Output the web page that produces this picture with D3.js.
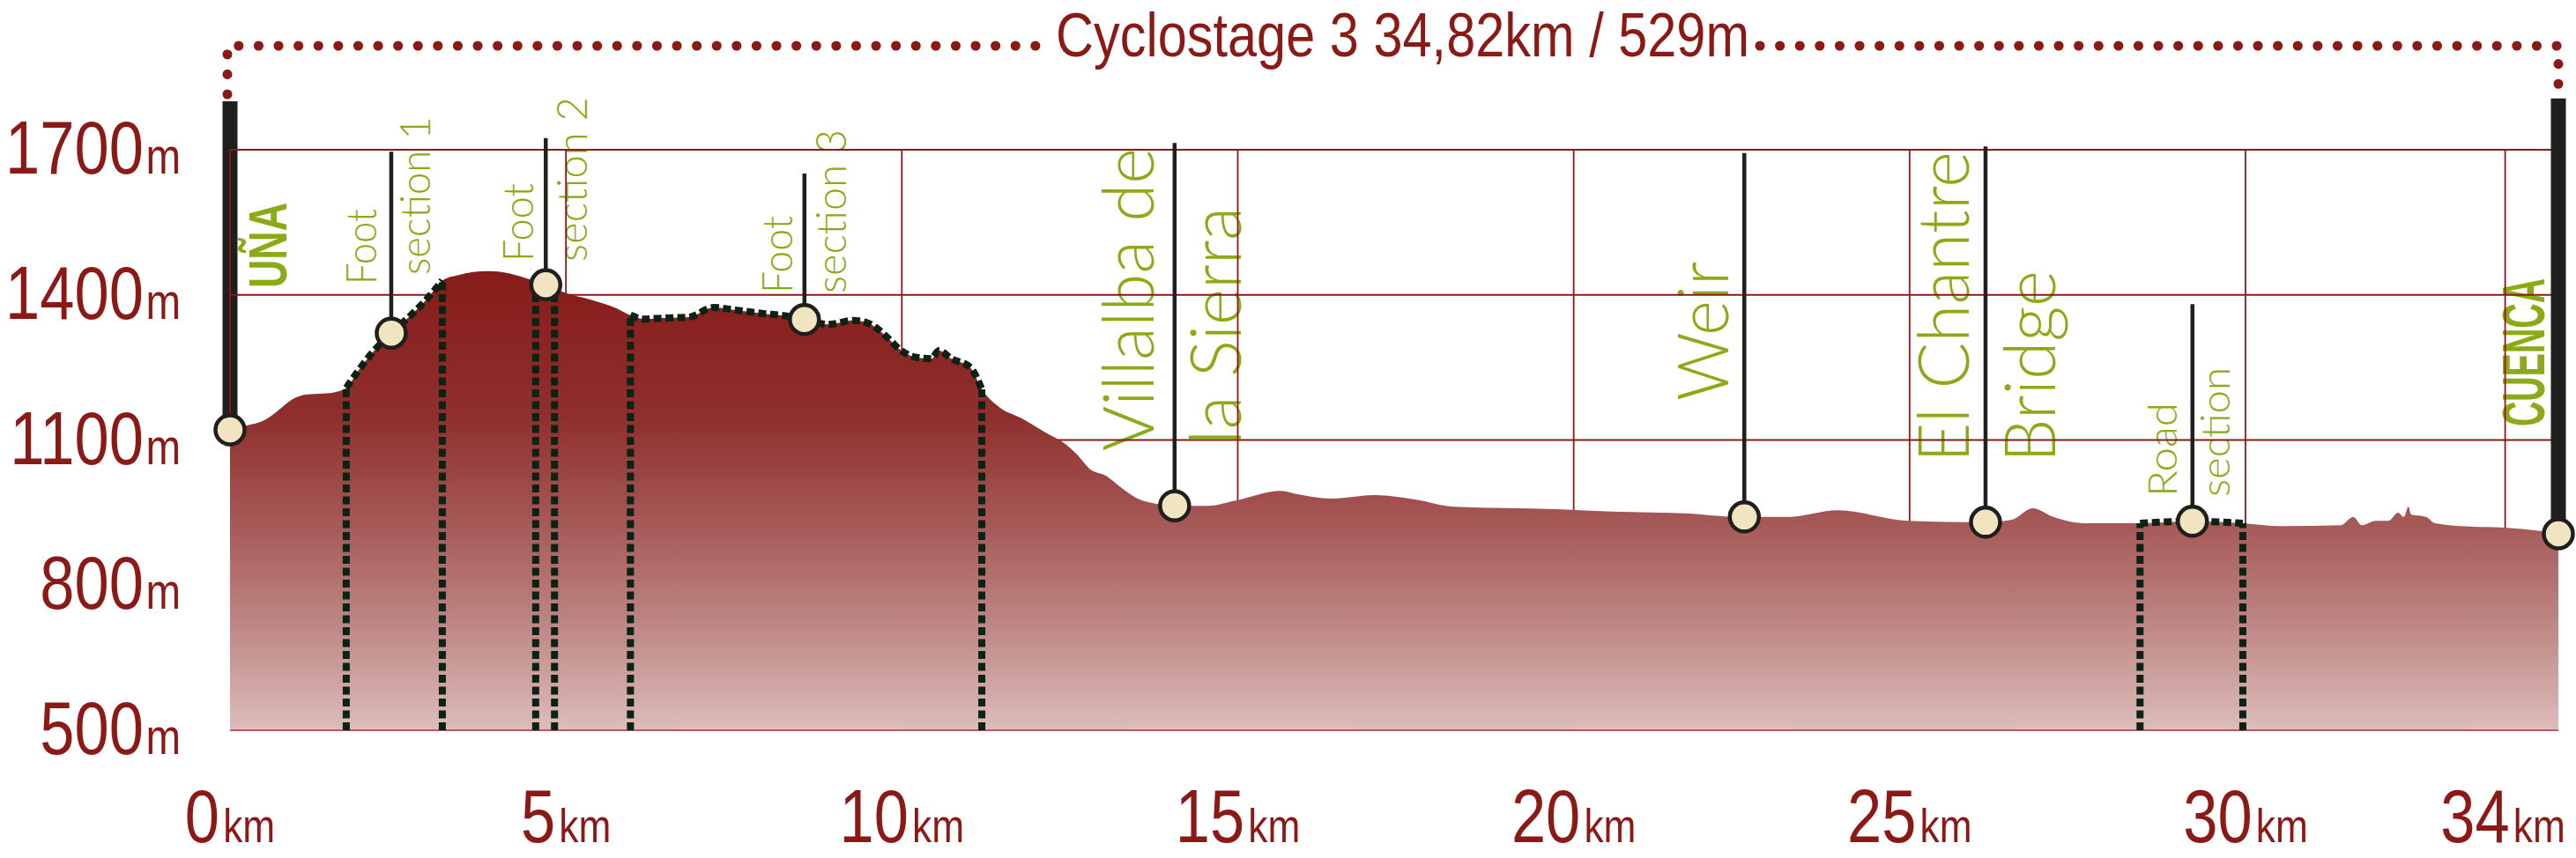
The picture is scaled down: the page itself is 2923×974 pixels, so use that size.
<!DOCTYPE html>
<html><head><meta charset="utf-8">
<script src="https://cdn.jsdelivr.net/npm/d3@7"></script>
<style>html,body{margin:0;padding:0;background:#fff;} svg{display:block;}</style>
</head><body>
<svg id="chart" width="2923" height="974"></svg>
<script>
// ---------------- DATA ----------------
const titleText = "Cyclostage 3 34,82km / 529m";
const distanceKm = [0,0.25,0.51,0.68,0.81,0.94,1.13,1.39,1.56,1.73,
  1.92,2.09,2.40,2.70,2.96,3.16,3.40,3.84,4.13,4.37,
  4.70,5.01,5.37,5.76,5.96,6.17,6.43,6.83,7.20,7.50,
  7.96,8.30,8.55,8.91,9.27,9.51,9.77,9.97,10.18,10.44,
  10.55,10.74,11.02,11.19,11.45,11.78,12.12,12.45,12.62,12.79,
  13.04,13.29,13.54,13.79,14.06,14.55,14.97,15.64,15.89,16.38,
  17.05,17.64,18.22,19.73,20.57,21.74,22.25,22.54,23.19,23.93,
  24.98,26.13,26.52,26.83,27.14,27.60,28.43,29.21,29.96,30.55,
  31.47,31.66,31.79,32.01,32.20,32.35,32.44,32.51,32.55,32.78,
  32.92,33.46,34.00,34.54,34.82];
const elevationM = [1121,1130,1141,1157,1172,1185,1194,1196,1199,1208,
  1245,1276,1321,1359,1396,1430,1441,1449,1445,1436,
  1421,1403,1390,1372,1358,1350,1352,1354,1374,1369,
  1361,1356,1349,1339,1347,1341,1314,1287,1272,1268,
  1285,1268,1250,1205,1168,1145,1117,1090,1068,1041,
  1026,999,977,968,964,964,975,995,988,979,
  986,977,962,957,952,948,942,941,941,955,
  933,930,935,959,941,928,928,932,928,922,
  924,941,924,933,933,950,941,962,946,941,
  928,921,919,912,906];
const waypointKm  = [0, 2.40, 4.70, 8.55, 14.06, 22.54, 26.13, 29.21, 34.82];
const waypointEle = [1121, 1321, 1421, 1349, 964, 941, 930, 932, 906];
const waypointLines = [["UÑA"],["Foot","section 1"],["Foot","section 2"],["Foot","section 3"],
  ["Villalba de","la Sierra"],["Weir"],["El Chantre","Bridge"],["Road","section"],["CUENCA"]];
const waypointIsTown = [true,false,false,false,false,false,false,false,true];
const sectionStartKm = [1.73, 4.55, 5.96, 28.43];
const sectionEndKm   = [3.16, 4.83, 11.19, 29.96];
const yTicks = [500, 800, 1100, 1400, 1700];
const xTicks = [0, 5, 10, 15, 20, 25, 30, 34];
const yUnit = "m", xUnit = "km";

// ---------------- LAYOUT ----------------
const stemTopM = [1800, 1696, 1724, 1651, 1714, 1693, 1707, 1381, 1806];
const labelLayout = [
  [{dx:64, y0:327, len:97, fs:62}],
  [{dx:-17, y0:323, len:86, fs:48},{dx:44, y0:312, len:180, fs:48}],
  [{dx:-14, y0:297, len:89, fs:48},{dx:47, y0:297, len:187, fs:48}],
  [{dx:-14, y0:333, len:88, fs:48},{dx:47, y0:333, len:186, fs:48}],
  [{dx:-24, y0:512, len:344, fs:80},{dx:75, y0:505, len:270, fs:80}],
  [{dx:-18, y0:455, len:158, fs:80}],
  [{dx:-19, y0:525, len:353, fs:80},{dx:79, y0:525, len:218, fs:80}],
  [{dx:-18, y0:564, len:107, fs:46},{dx:42, y0:564, len:147, fs:46}],
  [{dx:-16, y0:484, len:168, fs:68}]
];
const NARROW_SCALE = 0.82;

const RED = '#8b1a17', GREEN = '#8aab16', DARK = '#1f1f1d', DASH = '#0b2314', CREAM = '#f1e4c1';
const NARROW = "'Liberation Sans Narrow','Liberation Sans',Arial,sans-serif";
const LIGHT = "Lato,'Open Sans','Noto Sans',sans-serif";

const svg = d3.select('#chart');
const x = d3.scaleLinear().domain([0, 30, 34.82]).range([261, 2548, 2903]);
const y = d3.scaleLinear().domain([500, 1700]).range([829, 170]);

const profile = distanceKm.map((d, i) => ({km: d, e: elevationM[i]}));
const eAt = km => {
  const i = d3.bisector(d => d.km).left(profile, km);
  if (i <= 0) return profile[0].e;
  if (i >= profile.length) return profile[profile.length - 1].e;
  const a = profile[i - 1], b = profile[i];
  const t = (km - a.km) / (b.km - a.km);
  return a.e + t * (b.e - a.e);
};

// gradient
const defs = svg.append('defs');
const grad = defs.append('linearGradient').attr('id', 'fillGrad')
  .attr('gradientUnits', 'userSpaceOnUse')
  .attr('x1', 0).attr('x2', 0).attr('y1', y(1460)).attr('y2', y(500));
[[0,'#861a18'],[0.33,'#8f302e'],[0.56,'#a65a58'],[0.75,'#bb827f'],[0.94,'#d4aeac'],[1,'#ddbdbc']]
  .forEach(([o,c]) => grad.append('stop').attr('offset', o).attr('stop-color', c));

// ---------------- TITLE + DOTTED FRAME ----------------
const frameY = 52;
const dotted = d3.line();
svg.append('path').attr('d', dotted([[x(0)-3, 107],[x(0)-3, frameY],[1180, frameY]]))
  .attr('fill','none').attr('stroke', RED).attr('stroke-width', 11)
  .attr('stroke-linecap','round').attr('stroke-dasharray','0.1 22.5');
svg.append('path').attr('d', dotted([[1997, frameY],[x(34.82), frameY],[x(34.82), 112]]))
  .attr('fill','none').attr('stroke', RED).attr('stroke-width', 11)
  .attr('stroke-linecap','round').attr('stroke-dasharray','0.1 22.5');
svg.append('text').attr('x', 1198).attr('y', 64)
  .attr('font-family', NARROW).attr('font-size', 70).attr('fill', RED)
  .attr('textLength', 787).attr('lengthAdjust','spacingAndGlyphs')
  .text(titleText);

// ---------------- LABELS ----------------
waypointLines.forEach((lines, i) => {
  const sx = x(waypointKm[i]);
  lines.forEach((t, j) => {
    const L = labelLayout[i][j];
    svg.append('text')
      .attr('transform', `translate(${sx + L.dx},${L.y0}) rotate(-90)`)
      .attr('font-family', waypointIsTown[i] ? NARROW : LIGHT)
      .attr('font-weight', waypointIsTown[i] ? 700 : 300)
      .attr('font-size', L.fs).attr('fill', GREEN)
      .attr('textLength', L.len).attr('lengthAdjust', 'spacingAndGlyphs')
      .text(t);
  });
});

// start bar (under the grid)
svg.append('line').attr('x1', x(0)).attr('x2', x(0))
  .attr('y1', y(stemTopM[0])).attr('y2', y(waypointEle[0]))
  .attr('stroke', DARK).attr('stroke-width', 17);

// ---------------- GRID ----------------
const grid = svg.append('g');
yTicks.filter(t => t > 500).forEach(t => {
  grid.append('line').attr('x1', x(0)).attr('x2', x(34.82))
    .attr('y1', y(t)).attr('y2', y(t)).attr('stroke', RED).attr('stroke-width', 2.2);
});
xTicks.forEach(t => {
  grid.append('line').attr('x1', x(t)).attr('x2', x(t))
    .attr('y1', y(1700)).attr('y2', t === 0 ? y(waypointEle[0]) : y(500))
    .attr('stroke', RED).attr('stroke-width', 1.8);
});

// ---------------- PROFILE ----------------
const area = d3.area().x(d => x(d.km)).y0(y(500)).y1(d => y(d.e)).curve(d3.curveMonotoneX);
svg.append('path').datum(profile).attr('d', area).attr('fill', 'url(#fillGrad)');
svg.append('line').attr('x1', x(0)).attr('x2', x(34.82)).attr('y1', y(500)).attr('y2', y(500))
  .attr('stroke', '#b35e5c').attr('stroke-width', 2);

// ---------------- DASHED SECTIONS ----------------
const topLine = d3.line().x(d => x(d.km)).y(d => y(d.e)).curve(d3.curveMonotoneX);
sectionStartKm.forEach((k0, i) => {
  const k1 = sectionEndKm[i];
  const pts = [{km: k0, e: eAt(k0)}]
    .concat(profile.filter(p => p.km > k0 && p.km < k1))
    .concat([{km: k1, e: eAt(k1)}]);
  const g = svg.append('g').attr('fill', 'none').attr('stroke', DASH)
    .attr('stroke-width', 8).attr('stroke-dasharray', '9 4.5');
  g.append('path').attr('d', topLine(pts));
  [k0, k1].forEach(k => {
    g.append('line').attr('x1', x(k)).attr('x2', x(k))
      .attr('y1', y(500)).attr('y2', y(eAt(k)));
  });
});

// ---------------- STEMS + CIRCLES ----------------
waypointKm.forEach((k, i) => {
  if (i === 0) return;
  const terminal = i === waypointKm.length - 1;
  svg.append('line').attr('x1', x(k)).attr('x2', x(k))
    .attr('y1', y(stemTopM[i])).attr('y2', y(waypointEle[i]))
    .attr('stroke', DARK).attr('stroke-width', terminal ? 17 : 4.5);
});
svg.selectAll('circle.wp').data(waypointKm).enter().append('circle')
  .attr('class', 'wp')
  .attr('cx', d => x(d)).attr('cy', (d, i) => y(waypointEle[i]))
  .attr('r', 16.5).attr('fill', CREAM).attr('stroke', DARK).attr('stroke-width', 4.5);

// ---------------- AXIS LABELS ----------------
yTicks.forEach(t => {
  const tx = svg.append('text')
    .attr('transform', `translate(205,${y(t) + 27}) scale(${NARROW_SCALE},1)`)
    .attr('text-anchor', 'end').attr('font-family', NARROW).attr('fill', RED);
  tx.append('tspan').attr('font-size', 86).text(String(t));
  tx.append('tspan').attr('font-size', 58).attr('dx', 3).text(yUnit);
});
xTicks.forEach(t => {
  const tx = svg.append('text')
    .attr('transform', `translate(${Math.min(x(t), 2840)},956) scale(${NARROW_SCALE},1)`)
    .attr('text-anchor', 'middle').attr('font-family', NARROW).attr('fill', RED);
  tx.append('tspan').attr('font-size', 86).text(String(t));
  tx.append('tspan').attr('font-size', 54).attr('dx', 5).text(xUnit);
});
</script>
</body></html>
